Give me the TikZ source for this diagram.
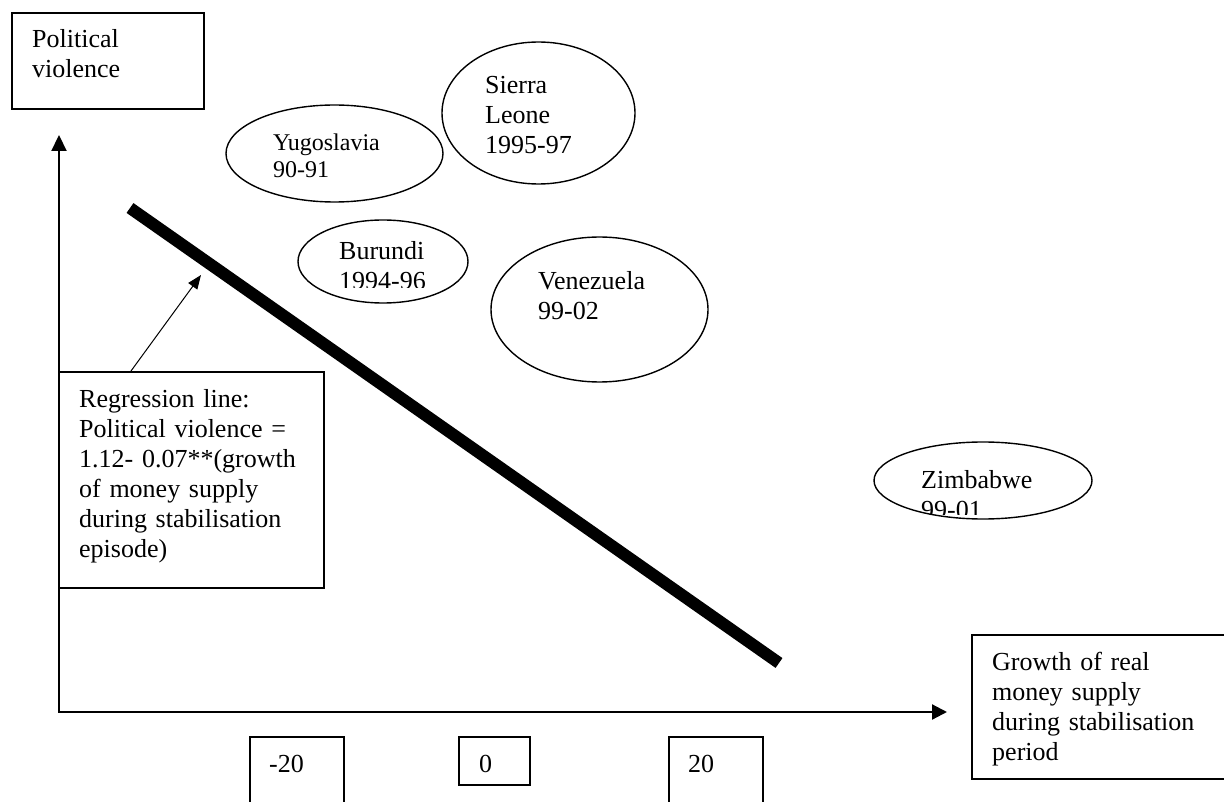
\documentclass[tikz,border=0pt]{standalone}
\usepackage{fontspec}
\setmainfont{Liberation Serif}
\usetikzlibrary{shapes.geometric,arrows.meta}

\tikzset{
  frame/.style={draw, line width=1.7pt, inner sep=0pt, anchor=north west},
  oval/.style={draw, ellipse, line width=1.4pt, inner sep=0pt},
  lbl/.style={inner sep=0pt, anchor=base west, align=left, text width=240pt,
              font=\fontsize{26}{30}\selectfont},
  smalllbl/.style={lbl, font=\fontsize{24}{27.5}\selectfont},
  axis/.style={line width=2.2pt,
               {Triangle[length=16pt,width=15pt]}-{Triangle[length=15pt,width=15pt]}},
  regline/.style={line width=12pt},
  pointer/.style={line width=1pt, -{Triangle[length=14pt,width=11pt]}}
}

\begin{document}
\begin{tikzpicture}[x=1pt, y=-1pt]
  % page area
  \clip (0,0) rectangle (1224,802);
  \fill[white] (0,0) rectangle (1224,802);

  % axes
  \coordinate (origin) at (59,712);
  \coordinate (ytip) at (59,135);
  \coordinate (xtip) at (947,712);
  \draw[axis] (ytip) -- (origin) -- (xtip);

  % axis titles
  \node[frame, minimum width=192pt, minimum height=96pt] (ybox) at (11,12) {};
  \node[lbl] (ytext) at (32,48) {Political\\violence};

  \node[frame, minimum width=270pt, minimum height=144pt] (xbox) at (971,634) {};
  \node[lbl] (xtext) at (992,670) {Growth of real\\money supply\\during stabilisation\\period};

  % tick value boxes
  \node[frame, minimum width=94pt, minimum height=80pt] (tickA) at (249,736) {};
  \node[lbl] (tickAtext) at (269,772) {-20};
  \node[frame, minimum width=71pt, minimum height=48pt] (tickB) at (458,736) {};
  \node[lbl] (tickBtext) at (479,772) {0};
  \node[frame, minimum width=94pt, minimum height=80pt] (tickC) at (668,736) {};
  \node[lbl] (tickCtext) at (688,772) {20};

  % country episodes
  \node[oval, minimum width=217pt, minimum height=97pt] (yugo) at (334.5,153.5) {};
  \node[smalllbl] (yugotext) at (273,150.5) {Yugoslavia\\90-91};

  \node[oval, minimum width=193pt, minimum height=142pt] (sierra) at (538.5,113) {};
  \node[lbl] (sierratext) at (485,94) {Sierra\\Leone\\1995-97};

  \node[oval, minimum width=170pt, minimum height=83pt] (burundi) at (383,261.5) {};
  \begin{scope}
    \clip (300,220) rectangle (470,288);
    \node[lbl] (burunditext) at (339,260) {Burundi\\1994-96};
  \end{scope}

  \node[oval, minimum width=217pt, minimum height=145pt] (venez) at (599.5,309.5) {};
  \node[lbl] (veneztext) at (538,290) {Venezuela\\99-02};

  \node[oval, minimum width=218pt, minimum height=77pt] (zimb) at (983,480.5) {};
  \begin{scope}
    \clip (880,442) rectangle (1090,514);
    \node[lbl] (zimbtext) at (921,488) {Zimbabwe\\99-01};
  \end{scope}

  % regression line
  \coordinate (regA) at (130,208);
  \coordinate (regB) at (779,663);
  \draw[regline] (regA) -- (regB);

  % regression note
  \node[frame, fill=white, minimum width=265pt, minimum height=216pt] (regbox) at (58,371) {};
  \node[lbl] (regtext) at (79,407) {Regression line:\\Political violence =\\1.12- 0.07**(growth\\of money supply\\during stabilisation\\episode)};
  \coordinate (regtip) at (201,275);
  \draw[pointer] ([xshift=73pt]regbox.north west) -- (regtip);
\end{tikzpicture}
\end{document}
